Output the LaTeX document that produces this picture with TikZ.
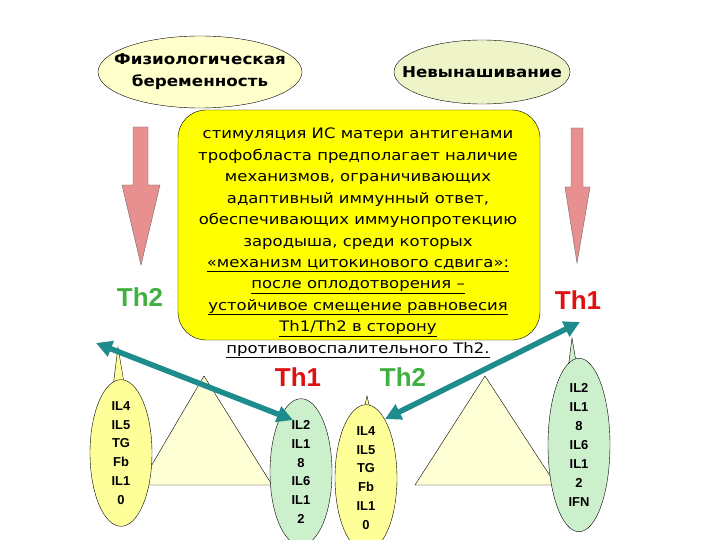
\documentclass[tikz,border=0pt]{standalone}
\usepackage{fontspec}
\setmainfont{DejaVu Sans}
\newfontfamily\lsans{Liberation Sans}
\usetikzlibrary{shapes.geometric,arrows.meta}
\definecolor{pyel}{HTML}{FFFFCC}
\definecolor{cyel}{HTML}{FFFF99}
\definecolor{pgreen}{HTML}{EEF4C8}
\definecolor{byel}{HTML}{FFFF00}
\definecolor{pink}{HTML}{E89090}
\definecolor{lgreen}{HTML}{CCF0CC}
\definecolor{teal2}{HTML}{1E8C8C}
\definecolor{thred}{HTML}{E01010}
\definecolor{thgreen}{HTML}{40B040}
\tikzset{
  tri/.style={draw,thin,fill=pyel!80},
  cyt/.style={draw,thin,align=center,font=\lsans\bfseries\fontsize{13}{19}\selectfont,inner sep=0pt},
  thlab/.style={font=\lsans\bfseries\fontsize{26}{26}\selectfont},
  bigarrow/.style={draw=black!60,thin,fill=pink},
  tealarrow/.style={teal2,line width=5.5bp,{Triangle[length=16bp,width=16bp]}-{Triangle[length=16bp,width=16bp]}}
}
\begin{document}
\begin{tikzpicture}[x=1bp,y=-1bp]
\useasboundingbox (0,0) rectangle (720,540);
% top ellipses
\draw[fill=pyel] (200,72) ellipse [x radius=102, y radius=36];
\node[inner sep=0pt] (phys) at (200,72) {\scalebox{1.12}[1]{\parbox{170bp}{\centering\bfseries\fontsize{15}{22}\selectfont Физиологическая\\беременность}}};
\draw[fill=pgreen] (482,72) ellipse [x radius=88, y radius=32];
\node[inner sep=0pt] (nev) at (482,72) {\scalebox{1.12}[1]{\bfseries\fontsize{15}{16}\selectfont Невынашивание}};
% triangles
\draw[tri] (140,485) -- (204,376) -- (272,485) -- cycle;
\draw[tri] (415,485) -- (485,376) -- (556,485) -- cycle;
% yellow box
\node[draw,fill=byel,rounded corners=28bp,minimum width=362bp,minimum height=230bp] (box) at (359,225) {};
\node[anchor=north,inner sep=0pt] (txt) at (358,128) {\scalebox{1.14}[1]{\parbox{320bp}{\centering\fontsize{14.5}{21.5}\selectfont стимуляция ИС матери антигенами\\трофобласта предполагает наличие\\механизмов, ограничивающих\\адаптивный иммунный ответ,\\обеспечивающих иммунопротекцию\\зародыша, среди которых\\\underline{«механизм цитокинового сдвига»:}\\\underline{после оплодотворения –}\\\underline{устойчивое смещение равновесия}\\\underline{Th1/Th2 в сторону}\\\underline{противовоспалительного Th2.}}}};
% pink arrows
\draw[bigarrow] (133,127) -- (148,127) -- (148,185) -- (160,185) -- (141,265) -- (122,185) -- (133,185) -- cycle;
\draw[bigarrow] (571,128) -- (583,128) -- (583,187) -- (590,187) -- (577,263) -- (565,187) -- (571,187) -- cycle;
% Th labels
\node[thlab,text=thgreen] (th2a) at (140,297) {Th2};
\node[thlab,text=thred] (th1a) at (578,300) {Th1};
\node[thlab,text=thred] (th1b) at (298,377) {Th1};
\node[thlab,text=thgreen] (th2b) at (403,377) {Th2};
% cytokine ovals with spikes
\fill[cyel] (112,395) -- (118,347) -- (126,395) -- cycle;
\draw (112,395) -- (118,347) -- (126,395);
\node[cyt,ellipse,fill=cyel,minimum width=62bp,minimum height=126bp] (c1) at (121,453) {IL4\\IL5\\TG\\Fb\\IL1\\0};
\fill[cyel] (360,426) -- (367,396) -- (374,426) -- cycle;
\draw (360,426) -- (367,396) -- (374,426);
\node[cyt,ellipse,fill=cyel,minimum width=62bp,minimum height=112bp] (c3) at (366,478) {IL4\\IL5\\TG\\Fb\\IL1\\0};
\node[cyt,ellipse,fill=lgreen,minimum width=62bp,minimum height=136bp] (c2) at (301,472) {IL2\\IL1\\8\\IL6\\IL1\\2};
\fill[lgreen] (566,385) -- (572,338) -- (580,385) -- cycle;
\draw (566,385) -- (572,338) -- (580,385);
\node[cyt,ellipse,fill=lgreen,minimum width=62bp,minimum height=136bp] (c4) at (579,445) {IL2\\IL1\\8\\IL6\\IL1\\2\\IFN};
% teal arrows
\coordinate (a1) at (96,343);
\coordinate (a2) at (293,420);
\coordinate (b1) at (385,419);
\coordinate (b2) at (580,322);
\draw[tealarrow] (a2) -- (a1);
\draw[tealarrow] (b1) -- (b2);
\end{tikzpicture}
\end{document}
